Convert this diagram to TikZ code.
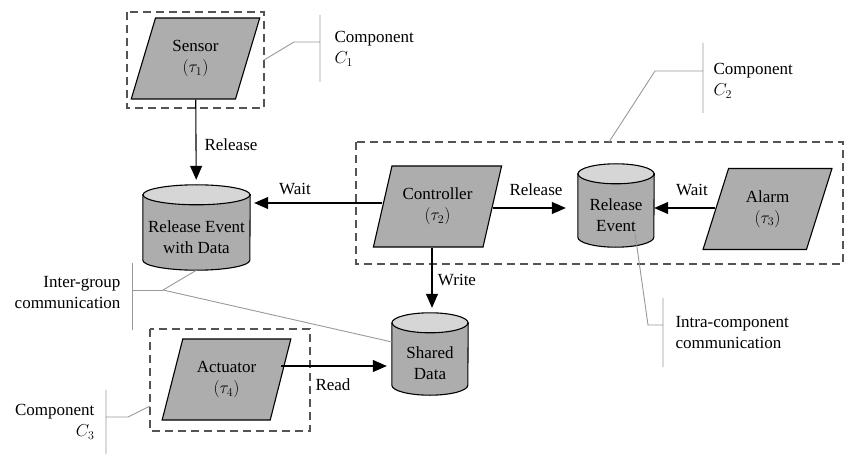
\documentclass[tikz,border=0pt]{standalone}
\usepackage{fontspec}
\setmainfont{Liberation Serif}
\usetikzlibrary{shapes.geometric,arrows.meta}
\definecolor{taskgray}{gray}{0.68}
\definecolor{topgray}{gray}{0.84}
\definecolor{boxgray}{gray}{0.33}
\definecolor{calloutgray}{gray}{0.6}
\tikzstyle{mydiagramstyle}=[
    x=1pt, y=-1pt,
    >={Triangle[length=14pt,width=12pt]},
    font=\fontsize{17}{21}\selectfont,
    every node/.style={align=center},
]
\tikzstyle{task}=[
    draw, line width=1.1pt, fill=taskgray,
    trapezium, trapezium left angle=69, trapezium right angle=111,
    trapezium stretches=true,
    minimum width=129pt, minimum height=81pt, inner sep=0pt,
]
\tikzstyle{store}=[inner sep=0pt]
\tikzstyle{storeline}=[draw, line width=1.1pt]
\tikzstyle{component}=[draw=boxgray, dash pattern=on 8pt off 5pt, line width=1.4pt]
\tikzstyle{callout}=[draw=calloutgray, line width=0.9pt]
\tikzstyle{flow}=[->, line width=1.1pt]
% cylinder drawn round a named node: #1 node, #2 half width
\newcommand{\drawstore}[2]{%
    \draw[storeline, fill=taskgray] ([yshift=-10pt]#1.north west) -- ([yshift=10pt]#1.south west)
        arc[start angle=180, end angle=360, x radius=#2, y radius=10pt]
        -- ([yshift=-10pt]#1.north east) -- cycle;
    \draw[storeline, fill=topgray] ([yshift=-10pt]#1.north) ellipse [x radius=#2, y radius=10pt];
}

\begin{document}
\begin{tikzpicture}[mydiagramstyle]
        \useasboundingbox (0,0) rectangle (845,454);
        % components
        \draw[component] (127,12) rectangle (264,108);
        \draw[component] (356,142) rectangle (843,264);
        \draw[component] (150,329) rectangle (310,431);
        % tasks
        \node (sensor) at (195.5,58.5) [task] {Sensor\\$(\tau_1)$};
        \node (ctrl) at (437.5,206.5) [task] {Controller\\$(\tau_2)$};
        \node (alarm) at (767.5,209) [task] {Alarm\\$(\tau_3)$};
        \node (act) at (226.5,379.5) [task] {Actuator\\$(\tau_4)$};
        % data stores
        \node (red) at (196.5,227.5) [store, minimum width=107pt, minimum height=85pt] {};
        \node (re) at (616,205.5) [store, minimum width=76pt, minimum height=83pt] {};
        \node (sd) at (430,354) [store, minimum width=76pt, minimum height=82pt] {};
        \drawstore{red}{53.5pt}
        \drawstore{re}{38pt}
        \drawstore{sd}{38pt}
        \node (redtext) at (196.5,237.5) {Release Event\\with Data};
        \node (retext) at (616,215) {Release\\Event};
        \node (sdtext) at (430,363.5) {Shared\\Data};
        % flows
        \draw[flow, shorten >=5pt] (sensor) -- (red);
        \draw[flow, shorten >=4pt] (ctrl.west |- 0,203) -- (red.east |- 0,203);
        \draw[flow, shorten >=12pt] (ctrl.east |- 0,208) -- (re.west |- 0,208);
        \draw[flow] (alarm.west |- 0,208) -- (re.east |- 0,208);
        \draw[flow, shorten >=5pt] (ctrl.south -| 432,0) -- (sd.north -| 432,0);
        \draw[flow, shorten >=5pt] (act.east |- 0,366) -- (sd.west |- 0,366);
        \node (l1) at (231,145) {Release};
        \node (l2) at (295,189) {Wait};
        \node (l3) at (536,190) {Release};
        \node (l4) at (692,190) {Wait};
        \node (l5) at (457,280) {Write};
        \node (l6) at (333,385) {Read};
        % callouts
        \draw[callout] (264,60) -- (294,42) -- (320,42) (320,15) -- (320,82);
        \node (c1) at (331,49) [anchor=west, align=left] {Component\\$C_1$};
        \draw[callout] (609,142) -- (655,71) -- (703,71) (703,43) -- (703,113);
        \node (c2) at (710,81) [anchor=west, align=left] {Component\\$C_2$};
        \draw[callout] (150,406) -- (128,417) -- (106,417) (106,390) -- (106,454);
        \node (c3) at (98,422) [anchor=east, align=right] {Component\\$C_3$};
        \coordinate (inter) at (163,290);
        \draw[callout] (132,263) -- (132,330) (132,290) -- (inter);
        \draw[callout] (inter) -- (red.south);
        \draw[callout] (inter) -- (392,342);
        \node (intergroup) at (124,293) [anchor=east, align=right] {Inter-group\\communication};
        \draw[callout] (635,233) -- (648,325) -- (663,325) (663,298) -- (663,367);
        \node (intra) at (672,333) [anchor=west, align=left] {Intra-component\\communication};
\end{tikzpicture}
\end{document}
